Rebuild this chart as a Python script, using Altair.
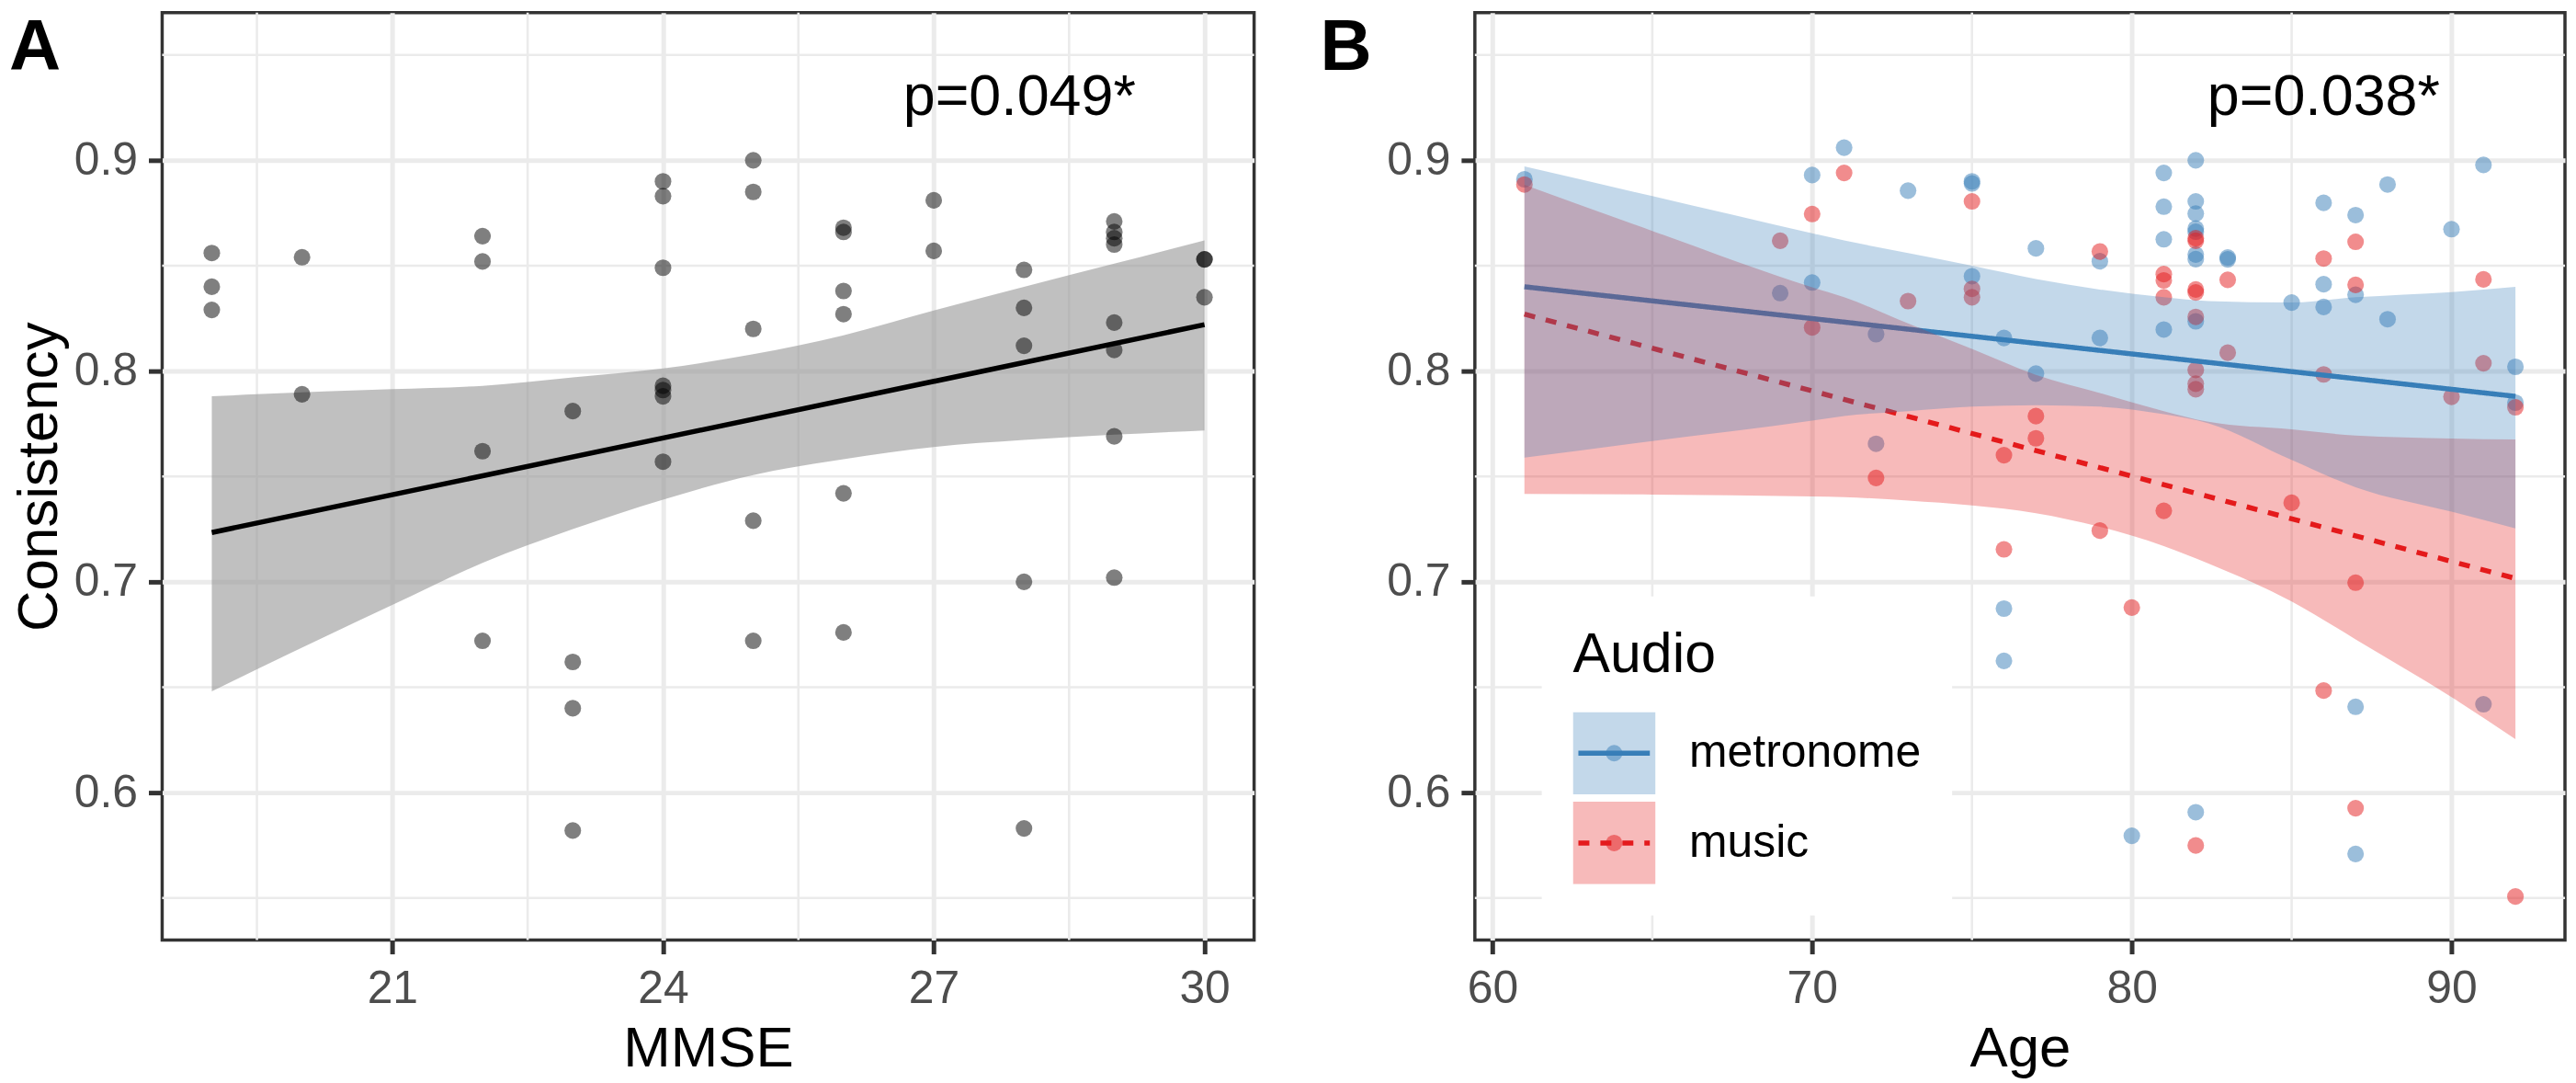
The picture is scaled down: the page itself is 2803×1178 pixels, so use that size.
import altair as alt
import pandas as pd

FONT = "Liberation Sans"
BLUE = "#377EB8"
RED = "#E41A1C"
GRID = "#EBEBEB"
DARK = "#333333"

# ---------------- Panel A : MMSE vs Consistency ----------------
MMSE = [19, 19, 19, 20, 20, 22, 22, 22, 22, 23, 23, 23, 23,
        24, 24, 24, 24, 24, 24, 24, 25, 25, 25, 25, 25,
        26, 26, 26, 26, 26, 26, 27, 27, 28, 28, 28, 28, 28,
        29, 29, 29, 29, 29, 29, 29, 29, 30, 30, 30]
CONS_A = [0.856, 0.840, 0.829, 0.854, 0.789, 0.864, 0.852, 0.762, 0.672,
          0.781, 0.662, 0.640, 0.582,
          0.890, 0.883, 0.849, 0.793, 0.791, 0.788, 0.757,
          0.900, 0.885, 0.820, 0.729, 0.672,
          0.868, 0.866, 0.838, 0.827, 0.742, 0.676,
          0.881, 0.857,
          0.848, 0.830, 0.812, 0.700, 0.583,
          0.871, 0.866, 0.863, 0.860, 0.823, 0.810, 0.769, 0.702,
          0.853, 0.853, 0.835]

FIT_A_X = [19, 30]
FIT_A_Y = [0.7234, 0.822]
BAND_A_X = [19, 19.5, 21, 22, 23, 24, 25, 26, 27, 28, 29, 30]
BAND_A_LO = [0.648, 0.6585, 0.689, 0.709, 0.725, 0.739, 0.7507, 0.7582, 0.764, 0.7673, 0.7698, 0.7718]
BAND_A_HI = [0.788, 0.789, 0.7914, 0.793, 0.797, 0.8013, 0.808, 0.817, 0.8287, 0.840, 0.851, 0.862]

# ---------------- Panel B : Age vs Consistency by Audio ----------------
AGE_MET = [61, 69, 70, 70, 71, 72, 72, 73, 75, 75, 75, 76, 76, 76, 77, 77, 79, 79, 80,
           81, 81, 81, 81, 82, 82, 82, 82, 82, 82, 82, 82, 82, 83, 83, 85, 86, 86, 86,
           87, 87, 87, 87, 88, 88, 90, 91, 91, 92, 92]
CONS_MET = [0.891, 0.837, 0.893, 0.842, 0.906, 0.8175, 0.7655, 0.8856, 0.889, 0.890, 0.845,
            0.8157, 0.6873, 0.6625, 0.8582, 0.7988, 0.8521, 0.8157, 0.5795,
            0.894, 0.878, 0.8625, 0.8197,
            0.900, 0.8805, 0.8747, 0.8676, 0.8661, 0.8553, 0.8531, 0.8236, 0.5907,
            0.8539, 0.853, 0.8325, 0.8798, 0.8412, 0.8304,
            0.874, 0.8362, 0.6407, 0.5709, 0.8885, 0.8246, 0.8673, 0.8978, 0.6419, 0.802, 0.785]
AGE_MUS = [61, 69, 70, 70, 71, 72, 73, 75, 75, 75, 76, 76, 77, 77, 79, 79, 80,
           81, 81, 81, 81, 82, 82, 82, 82, 82, 82, 82, 82, 82, 83, 83, 85, 86, 86, 86,
           87, 87, 87, 87, 90, 91, 91, 92, 92]
CONS_MUS = [0.8885, 0.8618, 0.8745, 0.8207, 0.894, 0.7493, 0.8332, 0.8805, 0.839, 0.835,
            0.7601, 0.7154, 0.7786, 0.7681, 0.8567, 0.7243, 0.6878,
            0.846, 0.843, 0.835, 0.7337,
            0.8618, 0.863, 0.8387, 0.8373, 0.8257, 0.8005, 0.794, 0.7914, 0.5749,
            0.8433, 0.8087, 0.7375, 0.8534, 0.7984, 0.6484,
            0.8613, 0.8409, 0.6996, 0.5926, 0.7878, 0.8435, 0.8037, 0.7828, 0.5507]

FIT_B_AGE = [61, 92]
FIT_MET = [0.840, 0.788]
FIT_MUS = [0.827, 0.7016]
BAND_B_AGE = [61, 65, 70, 71, 73, 75, 77, 79, 81, 82.4, 85, 87, 90, 92]
MET_LO = [0.7589, 0.7668, 0.7765, 0.7787, 0.781, 0.7831, 0.7838, 0.7831, 0.7795, 0.7752, 0.7578, 0.7449, 0.7333, 0.7254]
MET_HI = [0.8971, 0.883, 0.8654, 0.862, 0.856, 0.850, 0.8437, 0.8387, 0.835, 0.8332, 0.8325, 0.835, 0.8375, 0.840]
MUS_LO = [0.7417, 0.7414, 0.7405, 0.7402, 0.7385, 0.7362, 0.7326, 0.7261, 0.717, 0.7087, 0.6907, 0.6727, 0.6453, 0.6254]
MUS_HI = [0.8884, 0.8665, 0.8397, 0.835, 0.8226, 0.8105, 0.7982, 0.7896, 0.781, 0.7759, 0.7723, 0.7694, 0.768, 0.7675]

GROUPS = ["metronome", "music"]
LEGEND_TITLE = "Audio"

# ---------------- annotations / axes ----------------
PANEL_LABELS = ["A", "B"]
P_TEXT = ["p=0.049*", "p=0.038*"]
P_X = [27.95, 86]
P_Y = [0.93, 0.93]

X_TICKS_A = [21, 24, 27, 30]
X_TICKS_B = [60, 70, 80, 90]
Y_TICKS = [0.6, 0.7, 0.8, 0.9]
MINOR_Y = [0.55, 0.65, 0.75, 0.85, 0.95]
MINOR_X_A = [19.5, 22.5, 25.5, 28.5]
MINOR_X_B = [65, 75, 85]
X_DOM_A = [18.45, 30.55]
X_DOM_B = [59.45, 93.55]
Y_DOM = [0.53, 0.97]

W_A, W_B, H = 1192, 1190, 1012


def make_axis(values, fmt, title, label_pad, title_pad):
    kw = dict(values=values, format=fmt, labelFont=FONT, labelFontSize=50,
              labelColor="#4D4D4D", labelPadding=label_pad, titleFont=FONT,
              titleFontSize=62, titleFontWeight="normal", titleColor="black",
              titlePadding=title_pad, tickColor=DARK, tickWidth=5, tickSize=15,
              grid=True, gridColor=GRID, gridWidth=5, domain=False,
              labelFlush=False, labelOverlap=False)
    return alt.Axis(title=title, **kw)


yS = alt.Scale(domain=Y_DOM, nice=False, zero=False)


def minor_layers(xs, xscale):
    ly = alt.Chart(pd.DataFrame({"v": MINOR_Y})).mark_rule(color=GRID, strokeWidth=2.6).encode(
        y=alt.Y("v:Q", scale=yS))
    lx = alt.Chart(pd.DataFrame({"v": xs})).mark_rule(color=GRID, strokeWidth=2.6).encode(
        x=alt.X("v:Q", scale=xscale))
    return [ly, lx]


def text_layers(i, xscale, label_x):
    pt = alt.Chart(pd.DataFrame({"x": [P_X[i]], "y": [P_Y[i]], "t": [P_TEXT[i]]})).mark_text(
        font=FONT, fontSize=63, align="center", baseline="middle", color="black").encode(
        x=alt.X("x:Q", scale=xscale), y=alt.Y("y:Q", scale=yS), text="t:N")
    lab = alt.Chart(pd.DataFrame({"t": [PANEL_LABELS[i]]})).mark_text(
        font=FONT, fontSize=78, fontWeight="bold", align="left", baseline="alphabetic",
        color="black").encode(x=alt.value(label_x), y=alt.value(62), text="t:N")
    return [pt, lab]


# ---- Panel A ----
xA = alt.Scale(domain=X_DOM_A, nice=False, zero=False)
dfA = pd.DataFrame({"MMSE": MMSE, "Consistency": CONS_A})
bandA = alt.Chart(pd.DataFrame({"x": BAND_A_X, "lo": BAND_A_LO, "hi": BAND_A_HI})).mark_area(
    color="#999999", opacity=0.62, interpolate="monotone").encode(
    x=alt.X("x:Q", scale=xA), y=alt.Y("lo:Q", scale=yS), y2="hi:Q")
pointsA = alt.Chart(dfA).mark_circle(size=330, color="black", opacity=0.5).encode(
    x=alt.X("MMSE:Q", scale=xA, axis=make_axis(X_TICKS_A, "d", "MMSE", 13, 10)),
    y=alt.Y("Consistency:Q", scale=yS, axis=make_axis(Y_TICKS, ".1f", "Consistency", 12, 6)))
lineA = alt.Chart(pd.DataFrame({"x": FIT_A_X, "y": FIT_A_Y})).mark_line(
    color="black", strokeWidth=5.5).encode(
    x=alt.X("x:Q", scale=xA), y=alt.Y("y:Q", scale=yS))
panelA = alt.layer(*minor_layers(MINOR_X_A, xA), bandA, pointsA, lineA,
                   *text_layers(0, xA, -167)).properties(width=W_A, height=H)

# ---- Panel B ----
xB = alt.Scale(domain=X_DOM_B, nice=False, zero=False)
dfB = pd.DataFrame({"Age": AGE_MET + AGE_MUS, "Consistency": CONS_MET + CONS_MUS,
                    "Audio": [GROUPS[0]] * len(AGE_MET) + [GROUPS[1]] * len(AGE_MUS)})
dfFit = pd.DataFrame({"Age": FIT_B_AGE * 2, "fit": FIT_MET + FIT_MUS,
                      "Audio_l": [GROUPS[0]] * 2 + [GROUPS[1]] * 2})
dfBandMus = pd.DataFrame({"Age": BAND_B_AGE, "lo": MUS_LO, "hi": MUS_HI,
                          "Audio_r": [GROUPS[1]] * len(BAND_B_AGE)})
dfBandMet = pd.DataFrame({"Age": BAND_B_AGE, "lo": MET_LO, "hi": MET_HI,
                          "Audio_r": [GROUPS[0]] * len(BAND_B_AGE)})

common_leg = dict(title=LEGEND_TITLE, orient="none", legendX=73, legendY=637,
                  direction="vertical", columns=1, clipHeight=90, rowPadding=8, padding=34,
                  titleFont=FONT, titleFontSize=61, titleFontWeight="normal", titlePadding=31,
                  titleAnchor="start", labelFont=FONT, labelFontSize=50, labelOffset=37,
                  labelLimit=600)
leg_sq = alt.Legend(titleColor="black", labelColor="black", symbolType="square",
                    symbolSize=8100, symbolOpacity=0.3, symbolStrokeWidth=0,
                    fillColor="white", **common_leg)
leg_ln = alt.Legend(titleColor="transparent", labelColor="transparent", symbolType="stroke",
                    symbolSize=6084, symbolStrokeWidth=5.5, symbolOffset=3, **common_leg)
leg_pt = alt.Legend(titleColor="transparent", labelColor="transparent", symbolType="circle",
                    symbolSize=324, symbolOpacity=0.5, symbolStrokeWidth=0, symbolOffset=20,
                    **common_leg)

col_range = [BLUE, RED]
pointsB = alt.Chart(dfB).mark_circle(size=330, opacity=0.5).encode(
    x=alt.X("Age:Q", scale=xB, axis=make_axis(X_TICKS_B, "d", "Age", 13, 10)),
    y=alt.Y("Consistency:Q", scale=yS, axis=make_axis(Y_TICKS, ".1f", None, 12, 6)),
    color=alt.Color("Audio:N", scale=alt.Scale(range=col_range), legend=leg_sq))
linesB = alt.Chart(dfFit).mark_line(strokeWidth=5.5).encode(
    x=alt.X("Age:Q", scale=xB), y=alt.Y("fit:Q", scale=yS),
    stroke=alt.Stroke("Audio_l:N", scale=alt.Scale(range=col_range), legend=leg_ln),
    strokeDash=alt.StrokeDash("Audio_l:N", scale=alt.Scale(range=[[1, 0], [12, 12]]),
                              legend=leg_ln))
fill_scale = alt.Scale(range=col_range)
bandMus = alt.Chart(dfBandMus).mark_area(opacity=0.3, interpolate="monotone").encode(
    x=alt.X("Age:Q", scale=xB), y=alt.Y("lo:Q", scale=yS), y2="hi:Q",
    fill=alt.Fill("Audio_r:N", scale=fill_scale, legend=leg_pt))
bandMet = alt.Chart(dfBandMet).mark_area(opacity=0.3, interpolate="monotone").encode(
    x=alt.X("Age:Q", scale=xB), y=alt.Y("lo:Q", scale=yS), y2="hi:Q",
    fill=alt.Fill("Audio_r:N", scale=fill_scale, legend=leg_pt))
panelB = alt.layer(*minor_layers(MINOR_X_B, xB), pointsB, linesB, bandMus, bandMet,
                   *text_layers(1, xB, -169)).properties(width=W_B, height=H)

chart = alt.hconcat(panelA, panelB, spacing=66).resolve_legend(
    color="independent", fill="independent", stroke="independent", strokeDash="independent"
).properties(padding=0, background="white").configure(font=FONT).configure_view(
    stroke=DARK, strokeWidth=3.5)

chart.save("out.html", embed_options={"renderer": "svg", "actions": False})
